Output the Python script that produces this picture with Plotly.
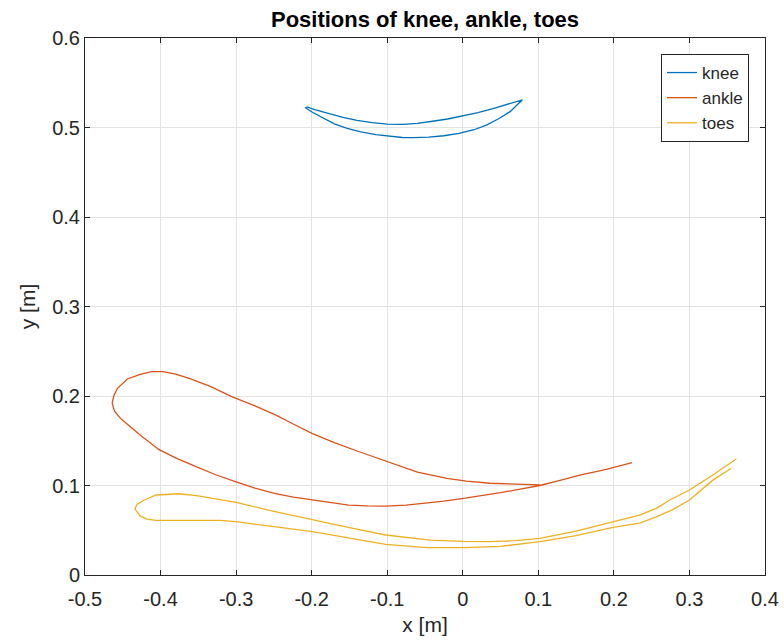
import plotly.graph_objects as go

# Joint trajectories over one gait cycle (metres)
knee_x = [0.079, 0.060, 0.040, 0.020, 0.001, -0.020, -0.040, -0.060, -0.080, -0.100,
          -0.120, -0.140, -0.160, -0.180, -0.196, -0.206, -0.208, -0.199, -0.185, -0.170,
          -0.153, -0.135, -0.115, -0.100, -0.080, -0.065, -0.045, -0.025, -0.005, 0.015,
          0.032, 0.048, 0.063, 0.079]
knee_y = [0.531, 0.526, 0.521, 0.5165, 0.513, 0.5095, 0.507, 0.5045, 0.5035, 0.5038,
          0.5055, 0.508, 0.5115, 0.516, 0.520, 0.523, 0.522, 0.517, 0.5105, 0.504,
          0.499, 0.495, 0.492, 0.4905, 0.4888, 0.4886, 0.4892, 0.4908, 0.4935, 0.4975,
          0.503, 0.510, 0.518, 0.531]

ankle_x = [0.102, 0.070, 0.036, 0.005, -0.021, -0.060, -0.102, -0.138, -0.170, -0.199,
           -0.225, -0.248, -0.275, -0.305, -0.335, -0.362, -0.380, -0.397, -0.412, -0.428,
           -0.444, -0.457, -0.462, -0.464, -0.461, -0.453, -0.442, -0.425, -0.402, -0.378,
           -0.353, -0.327, -0.300, -0.275, -0.248, -0.224, -0.199, -0.175, -0.151, -0.126,
           -0.102, -0.075, -0.050, -0.025, 0.001, 0.025, 0.050, 0.076, 0.102, 0.130,
           0.155, 0.190, 0.224]
ankle_y = [0.1006, 0.1012, 0.1025, 0.105, 0.108, 0.115, 0.127, 0.138, 0.148, 0.158,
           0.169, 0.179, 0.189, 0.199, 0.211, 0.2197, 0.2245, 0.2272, 0.2272, 0.224,
           0.219, 0.2086, 0.200, 0.192, 0.183, 0.175, 0.167, 0.155, 0.140, 0.130,
           0.121, 0.112, 0.104, 0.097, 0.091, 0.087, 0.084, 0.081, 0.078, 0.0772,
           0.077, 0.078, 0.080, 0.0825, 0.0857, 0.0885, 0.092, 0.096, 0.100, 0.106,
           0.1117, 0.118, 0.1255]

toes_x = [0.355, 0.331, 0.300, 0.278, 0.256, 0.234, 0.199, 0.150, 0.102, 0.050,
          0.001, -0.047, -0.102, -0.150, -0.199, -0.250, -0.300, -0.322, -0.365, -0.406,
          -0.418, -0.427, -0.434, -0.431, -0.422, -0.406, -0.375, -0.350, -0.331, -0.300,
          -0.250, -0.199, -0.150, -0.102, -0.070, -0.043, 0.000, 0.036, 0.070, 0.102,
          0.150, 0.199, 0.234, 0.256, 0.274, 0.300, 0.331, 0.362]
toes_y = [0.119, 0.106, 0.0838, 0.073, 0.065, 0.058, 0.0533, 0.044, 0.0372, 0.032,
          0.0305, 0.0305, 0.0343, 0.041, 0.0484, 0.054, 0.0596, 0.061, 0.0613, 0.061,
          0.0625, 0.066, 0.0737, 0.079, 0.0835, 0.0894, 0.0908, 0.0885, 0.0857, 0.0812,
          0.071, 0.0615, 0.053, 0.0447, 0.0415, 0.039, 0.0375, 0.0372, 0.0385, 0.041,
          0.049, 0.0596, 0.067, 0.0745, 0.0838, 0.095, 0.1117, 0.1296]

series_names = ["knee", "ankle", "toes"]
series_colors = ["#0072BD", "#D95319", "#EDB120"]

x_tick_vals = [-0.5, -0.4, -0.3, -0.2, -0.1, 0, 0.1, 0.2, 0.3, 0.4]
x_tick_text = ["-0.5", "-0.4", "-0.3", "-0.2", "-0.1", "0", "0.1", "0.2", "0.3", "0.4"]
y_tick_vals = [0, 0.1, 0.2, 0.3, 0.4, 0.5, 0.6]
y_tick_text = ["0", "0.1", "0.2", "0.3", "0.4", "0.5", "0.6"]

FONT = "Liberation Sans, Arial, Helvetica, sans-serif"
AXIS_COLOR = "#262626"
GRID_COLOR = "#e3e3e3"

fig = go.Figure()
for name, color, xs, ys in zip(series_names, series_colors,
                               [knee_x, ankle_x, toes_x], [knee_y, ankle_y, toes_y]):
    fig.add_trace(go.Scatter(x=xs, y=ys, mode="lines", name=name,
                             line=dict(color=color, width=1.3)))

axis_common = dict(
    showline=True, linecolor=AXIS_COLOR, linewidth=1, mirror="ticks",
    ticks="inside", ticklen=5, tickcolor=AXIS_COLOR, tickwidth=1,
    showgrid=True, gridcolor=GRID_COLOR, gridwidth=1, zeroline=False,
    automargin=False,
    tickfont=dict(family=FONT, size=20, color=AXIS_COLOR),
)

fig.update_xaxes(range=[-0.5, 0.4], tickvals=x_tick_vals, ticktext=x_tick_text,
                 ticklabelstandoff=6,
                 title=dict(text="x [m]", font=dict(family=FONT, size=21, color=AXIS_COLOR),
                            standoff=8),
                 **axis_common)
fig.update_yaxes(range=[0, 0.6], tickvals=y_tick_vals, ticktext=y_tick_text,
                 title=dict(text="y [m]", font=dict(family=FONT, size=21, color=AXIS_COLOR),
                            standoff=10),
                 **axis_common)

fig.update_layout(
    width=784, height=644,
    margin=dict(l=85, r=19, t=38, b=69),
    paper_bgcolor="white", plot_bgcolor="white",
    title=dict(text="<b>Positions of knee, ankle, toes</b>",
               font=dict(family=FONT, size=22, color="black"),
               x=425 / 784, xanchor="center", y=1 - 19 / 644, yanchor="middle",
               xref="container", yref="container"),
    legend=dict(x=(749 - 85) / 680, y=(575 - 54) / 537, xanchor="right", yanchor="top",
                bgcolor="white", bordercolor=AXIS_COLOR, borderwidth=1,
                font=dict(family=FONT, size=17, color=AXIS_COLOR),
                tracegroupgap=0),
    showlegend=True,
)

fig.write_html("out.html")
